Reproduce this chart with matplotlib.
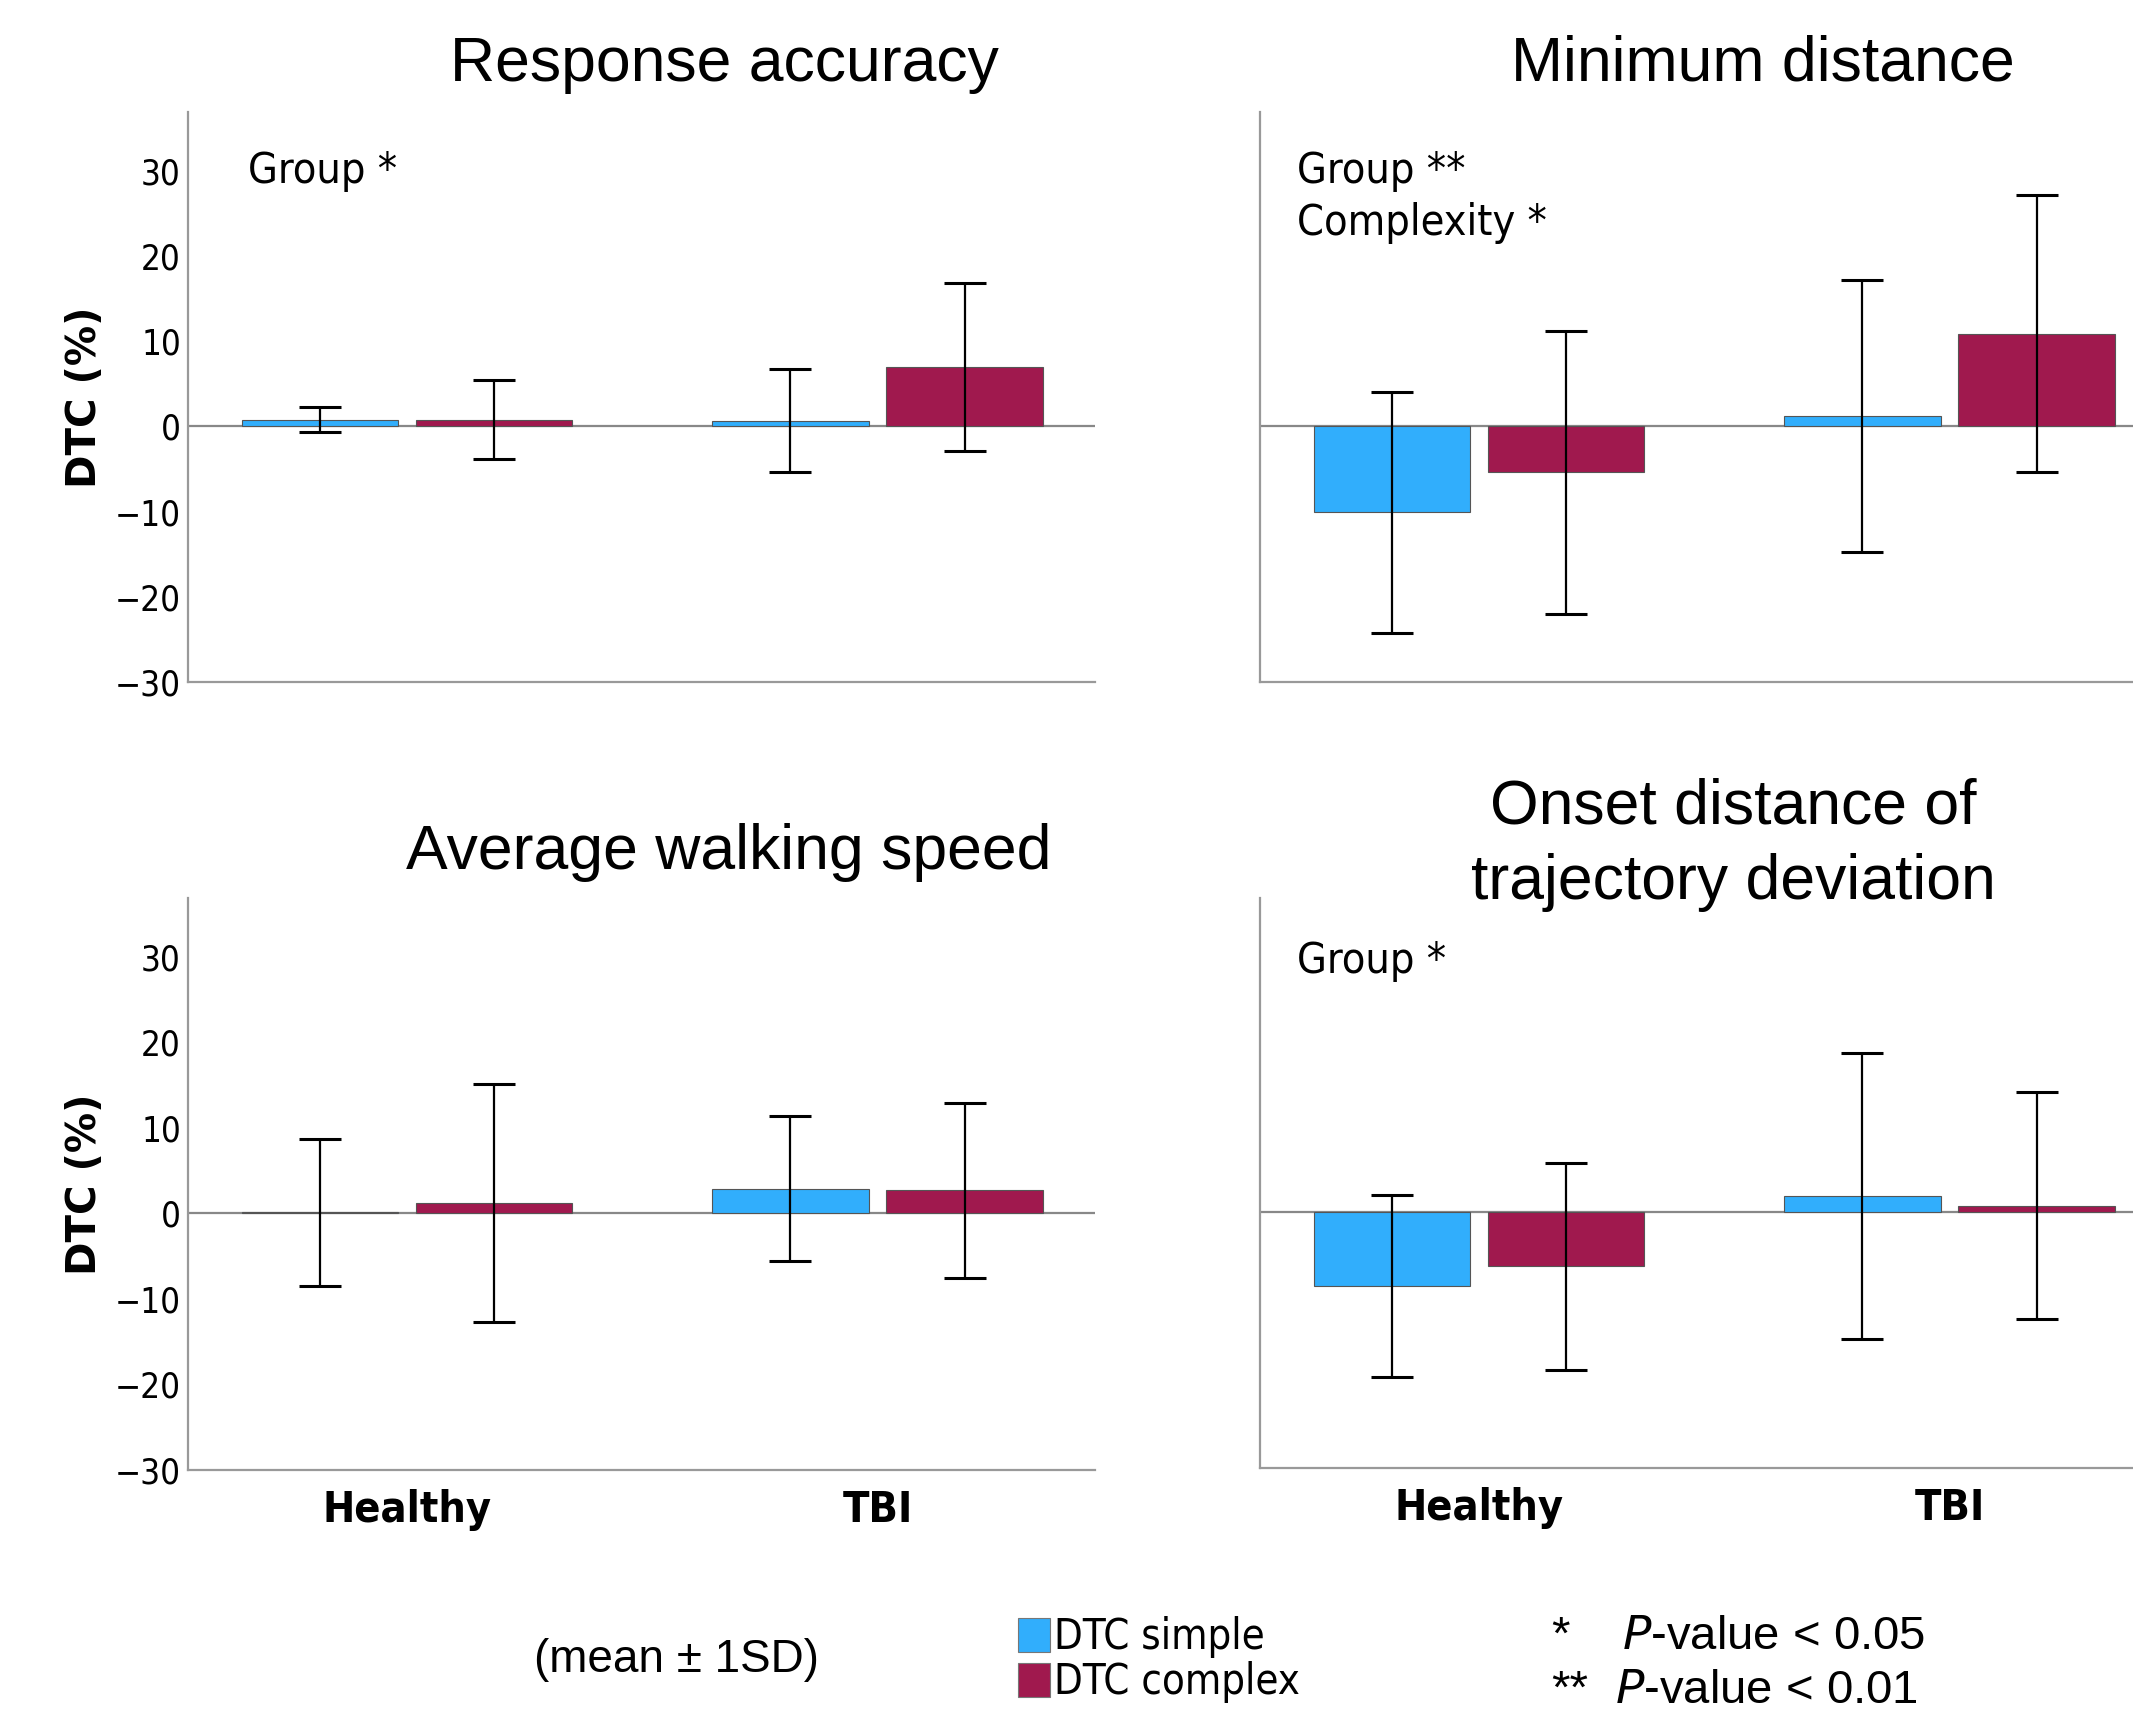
import numpy as np
import matplotlib.pyplot as plt
from matplotlib import font_manager
from matplotlib.patches import Rectangle

# Data (DTC %, mean and SD)
groups = ["Healthy", "TBI"]
series = ["DTC simple", "DTC complex"]

acc_simple = [0.8, 0.65]
acc_simple_sd = [1.5, 6.05]
acc_complex = [0.8, 7.0]
acc_complex_sd = [4.6, 9.85]

mind_simple = [-10.1, 1.2]
mind_simple_sd = [14.1, 16.0]
mind_complex = [-5.4, 10.9]
mind_complex_sd = [16.6, 16.2]

speed_simple = [0.15, 2.9]
speed_simple_sd = [8.6, 8.5]
speed_complex = [1.2, 2.7]
speed_complex_sd = [13.9, 10.2]

onset_simple = [-8.6, 1.9]
onset_simple_sd = [10.7, 16.8]
onset_complex = [-6.35, 0.8]
onset_complex_sd = [12.1, 13.3]

titles = ["Response accuracy", "Minimum distance",
          "Average walking speed", "Onset distance of\ntrajectory deviation"]
effects = ["Group *", "Group **\nComplexity *", None, "Group *"]

blue = "#31aefc"
red = "#a0194e"

# look for a condensed face
cond = [f for f in font_manager.fontManager.ttflist
        if "ondensed" in f.fname or "arrow" in f.fname or f.stretch in ("condensed", "semi-condensed")]
if cond:
    narrow = cond[0].name
    stretch = cond[0].stretch
else:
    narrow = "DejaVu Sans"
    stretch = "normal"
plain = "Liberation Sans"

W, H = 2133, 1710
fig = plt.figure(figsize=(W / 100, H / 100), dpi=100)


def px_axes(x0, y0, x1, y1):
    return fig.add_axes([x0 / W, 1 - y1 / H, (x1 - x0) / W, (y1 - y0) / H])


panels = [
    (px_axes(188, 112, 1095, 682), acc_simple, acc_simple_sd, acc_complex, acc_complex_sd),
    (px_axes(1260, 112, 2167, 682), mind_simple, mind_simple_sd, mind_complex, mind_complex_sd),
    (px_axes(188, 898, 1095, 1470), speed_simple, speed_simple_sd, speed_complex, speed_complex_sd),
    (px_axes(1260, 898, 2167, 1468), onset_simple, onset_simple_sd, onset_complex, onset_complex_sd),
]

x = np.arange(len(groups))
w = 0.332
off = 0.185

for i, (ax, s, s_sd, c, c_sd) in enumerate(panels):
    ax.bar(x - off, s, w, color=blue, edgecolor="#555555", linewidth=0.8, zorder=2)
    ax.bar(x + off, c, w, color=red, edgecolor="#555555", linewidth=0.8, zorder=2)
    ax.errorbar(x - off, s, yerr=s_sd, fmt="none", ecolor="black",
                elinewidth=1.6, capsize=15, capthick=2.2, zorder=3)
    ax.errorbar(x + off, c, yerr=c_sd, fmt="none", ecolor="black",
                elinewidth=1.6, capsize=15, capthick=2.2, zorder=3)
    ax.axhline(0, color="#888888", linewidth=1.6, zorder=1)

    ax.set_xlim(-0.465, 1.462)
    ax.set_ylim(-30, 36.9)
    ax.spines["top"].set_visible(False)
    ax.spines["right"].set_visible(False)
    ax.spines["left"].set_color("#999999")
    ax.spines["bottom"].set_color("#999999")
    ax.spines["left"].set_linewidth(1.6)
    ax.spines["bottom"].set_linewidth(1.6)
    ax.tick_params(length=0)

    if i % 2 == 0:
        ax.set_yticks([-30, -20, -10, 0, 10, 20, 30])
        ax.set_yticklabels(["\u221230", "\u221220", "\u221210", "0", "10", "20", "30"],
                           fontfamily=narrow, fontstretch=stretch, fontsize=25)
        ax.tick_params(axis="y", pad=5)
        ax.set_ylabel("DTC (%)", fontsize=29, fontweight="bold")
        ax.yaxis.set_label_coords(-0.092, 0.5)
    else:
        ax.set_yticks([])

    if i >= 2:
        ax.set_xticks(x)
        ax.set_xticklabels(groups, fontfamily=narrow, fontstretch=stretch,
                           fontweight="bold", fontsize=31)
        ax.tick_params(axis="x", pad=14)
    else:
        ax.set_xticks([])

ex = {0: (248, 150), 1: (1297, 150), 3: (1297, 940)}
for i, (px, py) in ex.items():
    fig.text(px / W, 1 - py / H, effects[i], ha="left", va="top",
             fontfamily=narrow, fontstretch=stretch, fontsize=31, linespacing=1.3)

# Titles
fig.text(724 / W, 1 - 64 / H, titles[0], ha="center", va="center", fontfamily=plain, fontsize=45)
fig.text(1763 / W, 1 - 64 / H, titles[1], ha="center", va="center", fontfamily=plain, fontsize=45)
fig.text(729 / W, 1 - 853 / H, titles[2], ha="center", va="center", fontfamily=plain, fontsize=45)
fig.text(1733 / W, 1 - 845 / H, titles[3], ha="center", va="center", fontfamily=plain,
         fontsize=45, linespacing=1.36)

# Bottom notes and legend
fig.text(676 / W, 1 - 1660 / H, "(mean \u00b1 1SD)", ha="center", va="center",
         fontfamily=plain, fontsize=33)

for j, (lab, col) in enumerate(zip(series, [blue, red])):
    y0 = 1618 + j * 45
    fig.patches.append(Rectangle((1018 / W, 1 - (y0 + 34) / H), 32 / W, 34 / H,
                                 transform=fig.transFigure, facecolor=col,
                                 edgecolor="#777777", linewidth=0.8))
    fig.text(1054 / W, 1 - (y0 + 19) / H, lab, ha="left", va="center",
             fontfamily=narrow, fontstretch=stretch, fontsize=30)

fig.text(1551 / W, 1 - 1637 / H, "*", ha="left", va="center", fontfamily=plain, fontsize=34)
fig.text(1622 / W, 1 - 1637 / H, r"$\it{P}$-value < 0.05", ha="left", va="center",
         fontfamily=plain, fontsize=34)
fig.text(1551 / W, 1 - 1691 / H, "**", ha="left", va="center", fontfamily=plain, fontsize=34)
fig.text(1615 / W, 1 - 1691 / H, r"$\it{P}$-value < 0.01", ha="left", va="center",
         fontfamily=plain, fontsize=34)

plt.savefig("out.png", dpi=100)
